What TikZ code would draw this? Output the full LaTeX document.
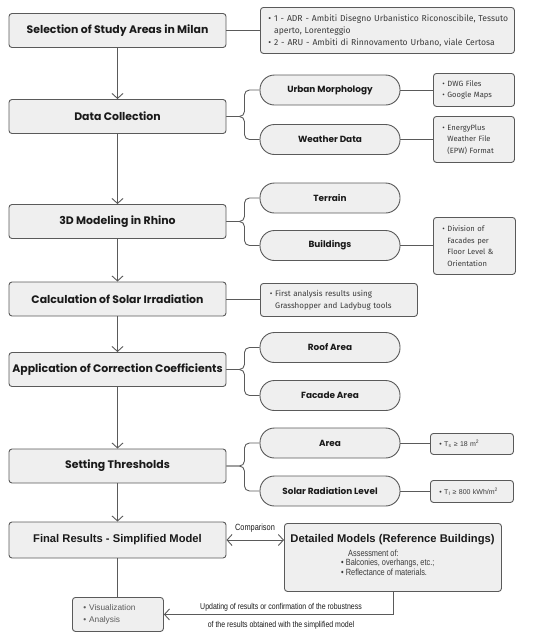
\documentclass[tikz,border=0pt]{standalone}
\usepackage{fontspec}
\setmainfont{Liberation Sans}
\newfontfamily\hfont{Poppins}
\newfontfamily\bfont{Fira Sans}
\newfontfamily\nfont{Liberation Sans}[FakeStretch=0.82]
\usetikzlibrary{arrows.meta,calc}
\definecolor{boxfill}{HTML}{EFEFEF}
\definecolor{boxdraw}{HTML}{5A5A5A}
\definecolor{txt}{HTML}{1A1A1A}
\definecolor{btxt}{HTML}{3A3A3A}
\definecolor{vtxt}{HTML}{5C5C5C}
\tikzset{
  mainbox/.style={draw=boxdraw, fill=boxfill, line width=0.9pt, rounded corners=3pt,
    minimum width=217pt, minimum height=34pt, inner sep=0pt,
    font=\hfont\bfseries\fontsize{10.9}{12}\selectfont, text=txt},
  pill/.style={draw=boxdraw, fill=boxfill, line width=0.9pt, rounded corners=14.5pt,
    minimum width=140pt, minimum height=30pt, inner sep=0pt,
    font=\hfont\bfseries\fontsize{8.9}{10}\selectfont, text=txt},
  bulbox/.style={draw=boxdraw, fill=boxfill, line width=0.9pt, rounded corners=3pt,
    inner sep=0pt, align=left, anchor=north west,
    font=\bfont\fontsize{7.6}{11.5}\selectfont, text=btxt},
  conn/.style={draw=boxdraw, line width=0.9pt},
  brace/.style={draw=boxdraw, line width=0.9pt, rounded corners=5pt},
  flow/.style={draw=boxdraw, line width=0.9pt, -{Straight Barb[length=5pt,width=11pt]}},
}
\begin{document}
\begin{tikzpicture}[x=1pt,y=-1pt]
\useasboundingbox (0,0) rectangle (550,638);
% main boxes
\node[mainbox] (m1) at (117.5,30.5) {Selection of Study Areas in Milan};
\node[mainbox] (m2) at (117.5,116.5) {Data Collection};
\node[mainbox] (m3) at (117.5,221.5) {3D Modeling in Rhino};
\node[mainbox] (m4) at (117.5,299) {Calculation of Solar Irradiation};
\node[mainbox] (m5) at (117.5,369.5) {Application of Correction Coefficients};
\node[mainbox] (m6) at (117.5,466) {Setting Thresholds};
\node[mainbox, minimum height=36pt, font=\bfseries\fontsize{11.2}{12}\selectfont] (m7) at (117.5,540) {Final Results - Simplified Model};
% pills
\node[pill] (p1) at (330,90) {Urban Morphology};
\node[pill] (p2) at (330,139.5) {Weather Data};
\node[pill] (p3) at (330,198) {Terrain};
\node[pill] (p4) at (330,245.5) {Buildings};
\node[pill] (p5) at (330,347.5) {Roof Area};
\node[pill] (p6) at (330,395.5) {Facade Area};
\node[pill] (p7) at (330,443) {Area};
\node[pill] (p8) at (330,491) {Solar Radiation Level};
% bullet boxes
\node[bulbox, minimum width=254pt, minimum height=46pt, text width=248pt, font=\bfont\fontsize{8.6}{12}\selectfont] (b1) at (260,7)
 {\hspace*{5pt}\textbullet\ 1 - ADR - Ambiti Disegno Urbanistico Riconoscibile, Tessuto\\
  \hspace*{5pt}\phantom{\textbullet\ }aperto, Lorenteggio\\
  \hspace*{5pt}\textbullet\ 2 - ARU - Ambiti di Rinnovamento Urbano, viale Certosa};
\node[bulbox, minimum width=81pt, minimum height=33pt, text width=75pt] (b2) at (433,73)
 {\hspace*{6pt}\textbullet\ DWG Files\\ \hspace*{6pt}\textbullet\ Google Maps};
\node[bulbox, minimum width=81pt, minimum height=46pt, text width=75pt] (b3) at (433,116)
 {\hspace*{6pt}\textbullet\ EnergyPlus\\ \hspace*{6pt}\phantom{\textbullet\ }Weather File\\ \hspace*{6pt}\phantom{\textbullet\ }(EPW) Format};
\node[bulbox, minimum width=82pt, minimum height=57pt, text width=76pt] (b4) at (433,217)
 {\hspace*{6pt}\textbullet\ Division of\\ \hspace*{6pt}\phantom{\textbullet\ }Facades per\\ \hspace*{6pt}\phantom{\textbullet\ }Floor Level \&\\ \hspace*{6pt}\phantom{\textbullet\ }Orientation};
\node[bulbox, minimum width=157pt, minimum height=33pt, text width=150pt, font=\bfont\fontsize{8}{12}\selectfont] (b5) at (260,283)
 {\hspace*{6pt}\textbullet\ First analysis results using\\ \hspace*{6pt}\phantom{\textbullet\ }Grasshopper and Ladybug tools};
\node[bulbox, minimum width=83pt, minimum height=21pt, text width=77pt, font=\fontsize{7}{8}\selectfont] (b6) at (430,433)
 {\hspace*{6pt}\textbullet\ T\textsubscript{s} ≥ 18 m\textsuperscript{2}};
\node[bulbox, minimum width=83pt, minimum height=22pt, text width=77pt, font=\fontsize{7}{8}\selectfont] (b7) at (430,480)
 {\hspace*{6pt}\textbullet\ T\textsubscript{I} ≥ 800 kWh/m\textsuperscript{2}};
% detailed and visualization
\node[bulbox, minimum width=217pt, minimum height=68pt] (d) at (284,523) {};
\node[font=\bfseries\fontsize{11.2}{12}\selectfont, text=txt] (dh) at (392.5,540) {Detailed Models (Reference Buildings)};
\node[font=\nfont\fontsize{9}{9.2}\selectfont, text=btxt, align=left, anchor=north west, inner sep=0pt] (dt) at (341,550)
 {\hspace*{7pt}Assessment of:\\ \textbullet\ Balconies, overhangs, etc.;\\ \textbullet\ Reflectance of materials.};
\node[bulbox, minimum width=91pt, minimum height=34pt, text width=85pt, font=\fontsize{8.3}{11.5}\selectfont, text=vtxt] (v) at (72,597)
 {\hspace*{8pt}\textbullet\ Visualization\\ \hspace*{8pt}\textbullet\ Analysis};
% main flow
\draw[flow] (m1.south) -- (m2.north);
\draw[flow] (m2.south) -- (m3.north);
\draw[flow] (m3.south) -- (m4.north);
\draw[flow] (m4.south) -- (m5.north);
\draw[flow] (m5.south) -- (m6.north);
\draw[flow] (m6.south) -- (m7.north);
\draw[conn] (m7.south) -- (v.north -| m7.south);
% side connectors
\draw[conn] (m1.east) -- (b1.west |- m1.east);
\draw[conn] (m4.east) -- (b5.west |- m4.east);
\foreach \m/\a/\b in {m2/p1/p2, m3/p3/p4, m5/p5/p6, m6/p7/p8}{
  \draw[brace] (\m.east) -- ++(18,0) |- (\a.west);
  \draw[brace] (\m.east) -- ++(18,0) |- (\b.west);
}
\draw[conn] (p1.east) -- (b2.west |- p1.east);
\draw[conn] (p2.east) -- (b3.west |- p2.east);
\draw[conn] (p4.east) -- (b4.west |- p4.east);
\draw[conn] (p7.east) -- (b6.west |- p7.east);
\draw[conn] (p8.east) -- (b7.west |- p8.east);
% comparison
\draw[draw=boxdraw, line width=0.9pt, {Straight Barb[length=5pt,width=11pt]}-{Straight Barb[length=5pt,width=11pt]}] (m7.east) -- (d.west |- m7.east);
\node[font=\nfont\fontsize{9}{9}\selectfont, text=txt] (cmp) at (255,528) {Comparison};
\coordinate (dd) at (393,591);
\draw[flow] (dd) |- (v.east);
\node[font=\nfont\fontsize{8.5}{9}\selectfont, text=txt] (u1) at (281,607.5) {Updating of results or confirmation of the robustness};
\node[font=\nfont\fontsize{8.5}{9}\selectfont, text=txt] (u2) at (281,625.5) {of the results obtained with the simplified model};
\end{tikzpicture}
\end{document}
